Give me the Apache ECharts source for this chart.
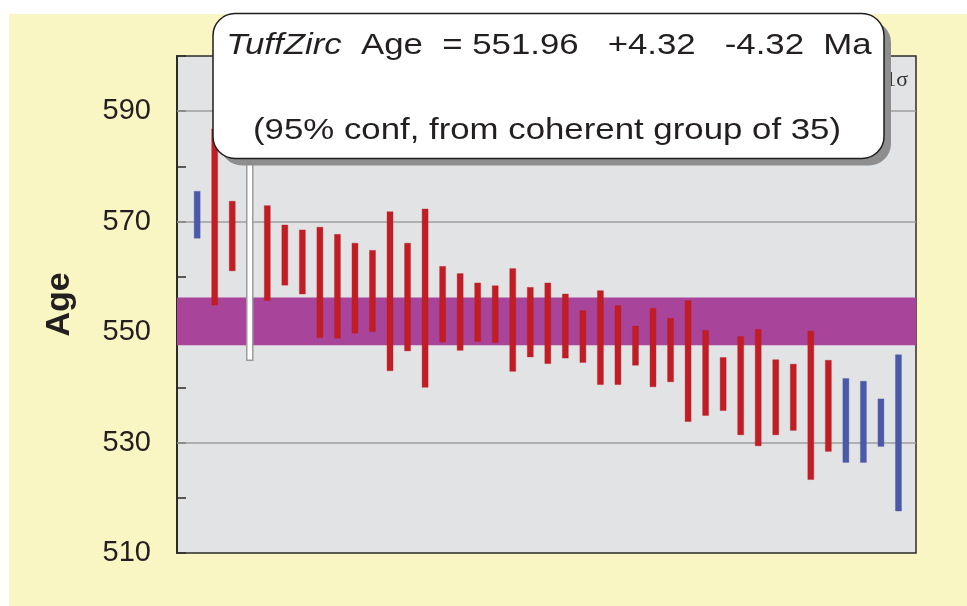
<!DOCTYPE html>
<html>
<head>
<meta charset="utf-8">
<script src="https://cdn.jsdelivr.net/npm/echarts@6/dist/echarts.min.js"></script>
<style>
  html, body { margin: 0; padding: 0; background: #fff; }
  #paper { position: absolute; left: 9px; top: 14px; width: 958px; height: 592px; background: #FAF6C3; }
  #main { position: absolute; left: 0; top: 0; width: 967px; height: 606px; }
</style>
</head>
<body>
<div id="paper"></div>
<div id="main"></div>
<script>
// analysis number, low / high edge of each 1-sigma box, and how it was treated
let pointKind = [
    'out', 'in', 'in', 'rej', 'in', 'in', 'in', 'in', 'in', 'in',
    'in', 'in', 'in', 'in', 'in', 'in', 'in', 'in', 'in', 'in',
    'in', 'in', 'in', 'in', 'in', 'in', 'in', 'in', 'in', 'in',
    'in', 'in', 'in', 'in', 'in', 'in', 'in', 'out', 'out', 'out', 'out'
];
let lowAge = [
    567.0, 554.9, 561.1, 544.9, 555.7, 558.5, 556.9, 549.0, 548.9, 549.8,
    550.1, 543.0, 546.6, 540.0, 548.2, 546.7, 548.3, 548.1, 542.9, 545.5,
    544.3, 545.3, 544.5, 540.5, 540.5, 544.0, 540.1, 541.0, 533.8, 534.9,
    535.8, 531.4, 529.4, 531.4, 532.2, 523.3, 528.4, 526.4, 526.4, 529.3, 517.6
];
let highAge = [
    575.5, 586.8, 573.7, 596.0, 572.9, 569.4, 568.5, 569.0, 567.7, 566.1,
    564.8, 571.8, 566.1, 572.3, 561.9, 560.6, 558.9, 558.4, 561.5, 558.1,
    558.9, 556.9, 553.9, 557.5, 554.8, 551.1, 554.3, 552.5, 555.7, 550.3,
    545.4, 549.2, 550.5, 545.0, 544.2, 550.2, 544.9, 541.6, 541.1, 537.9, 545.9
];
let meanAge = 551.96;
let ageErr = 4.32;
let gridLevels = [530, 550, 570, 590];
let yTickLabels = [510, 530, 550, 570, 590];

let kindColor = { in: '#C01D25', out: '#4A59A8', rej: '#FFFFFF' };

let boxes = [];
lowAge.forEach((lo, i) => {
    boxes.push([i + 1, lo, highAge[i], pointKind[i]]);
});

let chart = echarts.init(document.getElementById('main'));

let renderBox = function(params, api) {
    let top = api.coord([api.value(0), api.value(2)]);
    let bottom = api.coord([api.value(0), api.value(1)]);
    let kind = boxes[params.dataIndex][3];
    let w = 6;
    return {
        type: 'rect',
        shape: { x: top[0] - w / 2, y: top[1], width: w, height: bottom[1] - top[1] },
        style: kind === 'rej'
            ? { fill: '#FFFFFF', stroke: '#9C9C9C', lineWidth: 1.5 }
            : { fill: kindColor[kind], stroke: kind === 'in' ? 'rgba(192,29,37,0.35)' : 'rgba(74,89,168,0.35)', lineWidth: 1 }
    };
};

let font = '"Liberation Sans", Arial, sans-serif';

chart.setOption({
    backgroundColor: 'transparent',
    animation: false,
    grid: {
        left: 177, right: 51, top: 56, bottom: 53,
        show: true,
        backgroundColor: '#E2E3E5',
        borderColor: '#2B2B2B',
        borderWidth: 1.5
    },
    xAxis: {
        type: 'value',
        min: -0.15,
        max: 42,
        show: false
    },
    yAxis: {
        type: 'value',
        min: 510,
        max: 600,
        interval: 10,
        name: 'Age',
        nameLocation: 'middle',
        nameGap: 100,
        nameTextStyle: { fontFamily: font, fontWeight: 'bold', fontSize: 34, color: '#231F20' },
        axisLine: { show: true, onZero: false, lineStyle: { color: '#2B2B2B', width: 2 } },
        axisTick: { show: true, inside: true, length: 9, lineStyle: { color: '#2B2B2B', width: 1.5 } },
        splitLine: { show: false },
        axisLabel: {
            margin: 26,
            fontFamily: font,
            fontSize: 29,
            color: '#231F20',
            formatter: (v) => yTickLabels.includes(v) ? String(v) : ''
        }
    },
    series: [
        {
            type: 'line',
            data: [],
            z: 1,
            silent: true,
            markLine: {
                z: 1,
                silent: true,
                symbol: 'none',
                label: { show: false },
                lineStyle: { color: '#9E9E9E', width: 1.5, type: 'solid' },
                data: gridLevels.map((v) => ({ yAxis: v }))
            }
        },
        {
            type: 'line',
            data: [],
            z: 3,
            silent: true,
            markArea: {
                z: 3,
                silent: true,
                itemStyle: { color: '#A8449A', opacity: 1 },
                data: [[{ yAxis: meanAge - ageErr }, { yAxis: meanAge + ageErr }]]
            }
        },
        {
            type: 'custom',
            z: 10,
            clip: true,
            renderItem: renderBox,
            encode: { x: 0, y: [1, 2] },
            data: boxes
        }
    ],
    graphic: [
        {
            type: 'text',
            right: 59,
            top: 69,
            z: 50,
            style: { text: '1σ', font: '22px "Liberation Serif", serif', fill: '#333' }
        },
        {
            type: 'rect',
            z: 100,
            shape: { x: 220, y: 20.5, width: 671, height: 145, r: 22 },
            style: { fill: '#8E8E8E' }
        },
        {
            type: 'rect',
            z: 101,
            shape: { x: 213, y: 13.5, width: 671, height: 145, r: 22 },
            style: { fill: '#FFFFFF', stroke: '#1E1E1E', lineWidth: 1.5 }
        },
        {
            type: 'text',
            z: 102,
            x: 549,
            y: 46,
            scaleX: 1.2,
            style: {
                text: '{i|TuffZirc}  Age  = 551.96   +4.32   -4.32  Ma',
                align: 'center',
                verticalAlign: 'middle',
                font: '29px "Liberation Sans", Arial, sans-serif',
                fill: '#231F20',
                rich: {
                    i: { fontStyle: 'italic', fontSize: 29, fontFamily: font, fill: '#231F20' }
                }
            }
        },
        {
            type: 'text',
            z: 102,
            x: 547,
            y: 131,
            scaleX: 1.2,
            style: {
                text: '(95% conf, from coherent group of 35)',
                align: 'center',
                verticalAlign: 'middle',
                font: '29px "Liberation Sans", Arial, sans-serif',
                fill: '#231F20'
            }
        }
    ]
});
</script>
</body>
</html>
